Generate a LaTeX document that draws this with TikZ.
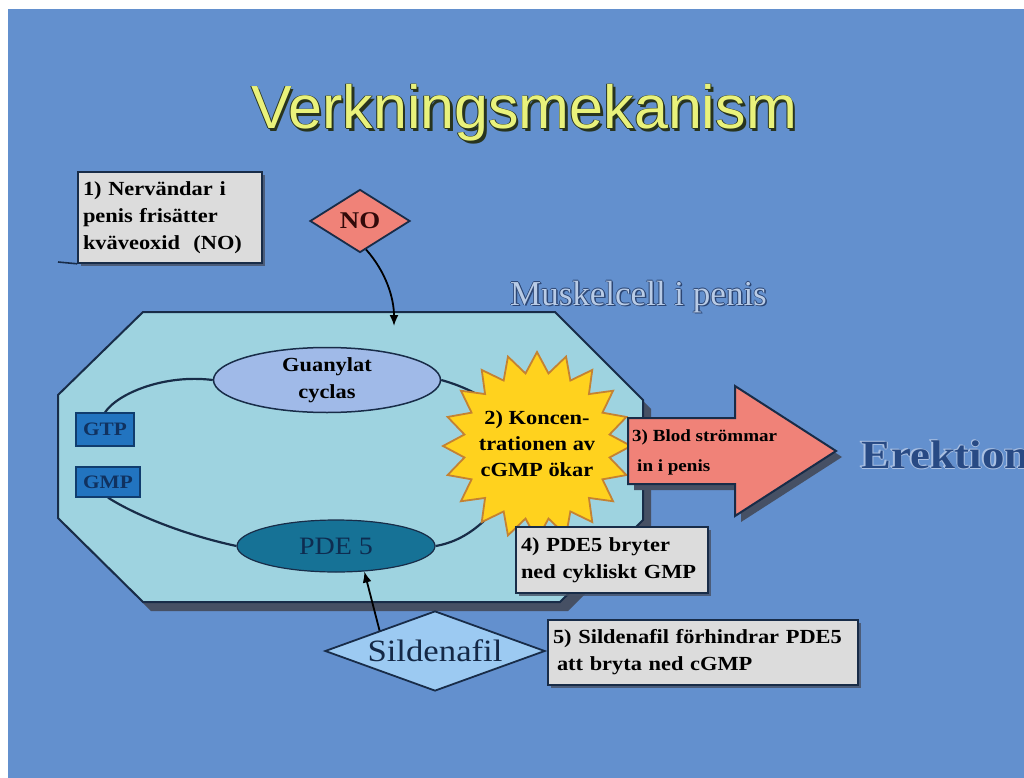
\documentclass[tikz,border=0pt]{standalone}
\usepackage{fontspec}
\setmainfont{Liberation Serif}
\newfontfamily\tb[FakeStretch=1.12]{Liberation Serif}
\newfontfamily\sansf{Liberation Sans}
\usetikzlibrary{shapes.geometric,arrows.meta,shadows}
\pgfdeclarelayer{back}
\pgfdeclarelayer{mid}
\pgfsetlayers{back,mid,main}

\definecolor{bgblue}{RGB}{99,144,206}
\definecolor{cellfill}{RGB}{158,211,224}
\definecolor{navy}{RGB}{24,44,72}
\definecolor{gcfill}{RGB}{160,186,232}
\definecolor{pdefill}{RGB}{22,114,150}
\definecolor{pdetext}{RGB}{14,44,80}
\definecolor{nucbox}{RGB}{34,116,192}
\definecolor{nucedge}{RGB}{16,60,110}
\definecolor{nuctext}{RGB}{16,50,96}
\definecolor{sunfill}{RGB}{255,210,30}
\definecolor{sunedge}{RGB}{196,130,50}
\definecolor{salmon}{RGB}{240,130,120}
\definecolor{boxgray}{RGB}{220,220,220}
\definecolor{silfill}{RGB}{156,202,242}
\definecolor{siltext}{RGB}{20,40,70}
\definecolor{notext}{RGB}{50,10,10}
\definecolor{shadowc}{RGB}{70,80,100}
\definecolor{titlefill}{RGB}{233,242,123}
\definecolor{titleedge}{RGB}{40,52,30}
\definecolor{muskfill}{RGB}{184,203,230}
\definecolor{muskedge}{RGB}{44,70,116}
\definecolor{erekfill}{RGB}{40,74,132}
\definecolor{erekedge}{RGB}{170,192,226}

\newcommand{\outlinedtext}[4]{%
  \leavevmode
  \rlap{\kern#3\raisebox{-#3}{\textcolor{#1}{#4}}}%
  \rlap{\kern-0.9pt\textcolor{#1}{#4}}%
  \rlap{\kern0.9pt\textcolor{#1}{#4}}%
  \rlap{\raisebox{0.9pt}{\textcolor{#1}{#4}}}%
  \rlap{\raisebox{-0.9pt}{\textcolor{#1}{#4}}}%
  \textcolor{#2}{#4}}

\begin{document}
\begin{tikzpicture}[x=1pt,y=-1pt,
  notebox/.style={draw=navy, line width=1.6pt, fill=boxgray, inner sep=5pt,
    align=left, font=\tb\bfseries\fontsize{20}{27}\selectfont, text=black,
    drop shadow={shadow xshift=3pt, shadow yshift=-3pt, fill=shadowc, opacity=0.8}},
  cyc/.style={draw=navy, line width=2.2pt},
  arr/.style={draw=black, line width=1.8pt, -{Latex[length=11pt,width=9pt]}},
  nuc/.style={draw=nucedge, fill=nucbox, line width=1.2pt, inner sep=0,
    font=\tb\bfseries\fontsize{19}{19}\selectfont, text=nuctext}]
\useasboundingbox (0,0) rectangle (1024,778);

\begin{pgfonlayer}{back}
\fill[white] (0,0) rectangle (1024,778);
\fill[bgblue] (8,9) rectangle (1024,778);
% cell shadow and cell
\fill[shadowc] (151,321) -- (563,321) -- (651,409) -- (651,529) -- (568,611) -- (151,611) -- (66,527) -- (66,404) -- cycle;
\filldraw[fill=cellfill, draw=navy, line width=2pt] (143,312) -- (555,312) -- (643,400) -- (643,520) -- (560,602) -- (143,602) -- (58,518) -- (58,395) -- cycle;
\end{pgfonlayer}

% title
\node[font=\sansf\fontsize{61}{61}\selectfont, anchor=base, inner sep=0] (title) at (524,129)
  {\outlinedtext{titleedge}{titlefill}{2.5pt}{Verkningsmekanism}};

% enzymes
\node[ellipse, draw=navy, line width=1.5pt, fill=gcfill, minimum width=227pt, minimum height=65pt,
  inner sep=0, align=center, font=\tb\bfseries\fontsize{20}{27}\selectfont] (gc) at (327,380) {Guanylat\\cyclas};
\node[ellipse, draw=navy, line width=1.2pt, fill=pdefill, minimum width=198pt, minimum height=52pt,
  inner sep=0, font=\tb\fontsize{25}{25}\selectfont, text=pdetext] (pde) at (336,546) {PDE 5};
\node[nuc, minimum width=58pt, minimum height=33pt] (gtp) at (105,429.5) {GTP};
\node[nuc, minimum width=64pt, minimum height=30pt] (gmp) at (108,482) {GMP};

% sun
\node[star, star points=20, star point ratio=1.28, minimum size=188pt, inner sep=0,
  fill=sunfill, draw=sunedge, line width=1.8pt] (sun) at (537,446) {};
\node[font=\tb\bfseries\fontsize{20}{26}\selectfont, align=center, text=black, inner sep=0] (sunlbl) at (537,444)
  {2) Koncen-\\trationen av\\cGMP ökar};

% cycle lines
\begin{pgfonlayer}{mid}
\draw[cyc] (gtp.north) .. controls (118,393) and (165,374) .. (gc.west);
\draw[cyc] (gc.east) .. controls (470,388) and (505,405) .. (sun.center);
\draw[cyc] (gmp.south) .. controls (135,515) and (185,535) .. (pde.west);
\draw[cyc] (pde.east) .. controls (470,540) and (500,515) .. (sun.center);
\end{pgfonlayer}

% big arrow
\fill[shadowc] (634,424) -- (741,424) -- (741,392) -- (842,457) -- (741,522) -- (741,490) -- (634,490) -- cycle;
\filldraw[fill=salmon, draw=navy, line width=2pt] (628,418) -- (735,418) -- (735,386) -- (836,451) -- (735,516) -- (735,484) -- (628,484) -- cycle;
\node[anchor=west, align=left, font=\tb\bfseries\fontsize{17}{30}\selectfont, inner sep=0] (blod) at (632,452)
  {3) Blod strömmar\\\hspace*{5pt}in i penis};

\node[anchor=west, inner sep=0, font=\tb\bfseries\fontsize{40}{40}\selectfont] (erek) at (861,455)
  {\outlinedtext{erekedge}{erekfill}{-1.5pt}{Erektion}};

% labels
\node[anchor=base west, inner sep=0, font=\fontsize{35}{35}\selectfont] (musk) at (510,305)
  {\outlinedtext{muskedge}{muskfill}{1.5pt}{Muskelcell i penis}};

\node[notebox, text width=174pt, minimum height=91pt] (n1) at (170,217.5)
  {1) Nervändar i\\penis frisätter\\kväveoxid\ \ (NO)};
\node[notebox, text width=182pt, minimum height=66pt] (n4) at (612,560)
  {4) PDE5 bryter\\ned cykliskt GMP};
\node[notebox, text width=300pt, minimum height=65pt] (n5) at (703,652.5)
  {5) Sildenafil förhindrar PDE5\\\hspace*{4pt}att bryta ned cGMP};

\coordinate (c1) at (58,262);
\draw[navy, line width=1.6pt] (c1) -- (n1.south west);

% diamonds
\node[diamond, aspect=1.6, minimum width=100pt, minimum height=63pt, inner sep=0,
  fill=salmon, draw=navy, line width=1.8pt, font=\tb\bfseries\fontsize{24}{24}\selectfont, text=notext] (no) at (360,221) {NO};
\node[diamond, aspect=2.75, minimum width=220pt, minimum height=80pt, inner sep=0,
  fill=silfill, draw=navy, line width=1.8pt, font=\tb\fontsize{31}{31}\selectfont, text=siltext] (sil) at (435,651) {Sildenafil};

% arrows
\coordinate (noend) at (394,326);
\draw[arr] (no.-78) .. controls (386,272) and (394,298) .. (noend);
\draw[arr] (sil.north west) -- (pde.-42);
\end{tikzpicture}
\end{document}
